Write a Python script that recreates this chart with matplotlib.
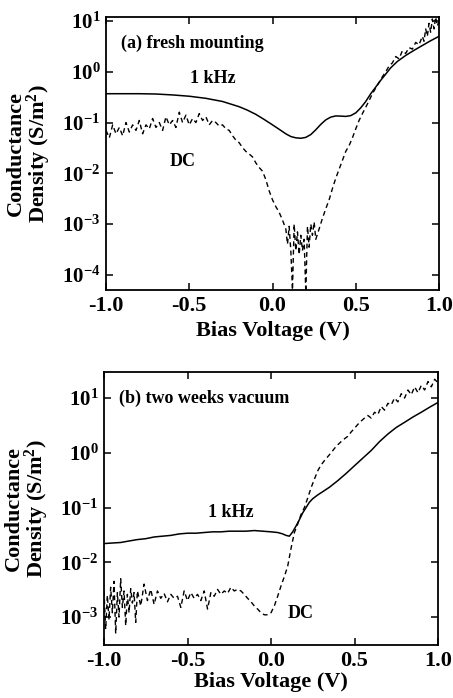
import numpy as np
import matplotlib
matplotlib.use("Agg")
import matplotlib.pyplot as plt

plt.rcParams["font.family"] = ["Liberation Serif", "DejaVu Serif"]
plt.rcParams["font.weight"] = "bold"
plt.rcParams["mathtext.fontset"] = "custom"
plt.rcParams["mathtext.rm"] = "Liberation Serif:bold"
plt.rcParams["mathtext.bf"] = "Liberation Serif:bold"
plt.rcParams["mathtext.it"] = "Liberation Serif:bold:italic"
plt.rcParams["mathtext.default"] = "bf"

# ---------------- (a) fresh mounting ----------------
v_khz_a = [-1.0, -0.9, -0.8, -0.7, -0.6, -0.5, -0.4, -0.3, -0.2, -0.15, -0.1, -0.05,
           0.0, 0.05, 0.08, 0.11, 0.14, 0.17, 0.20, 0.23, 0.26, 0.29, 0.32, 0.35,
           0.38, 0.41, 0.44, 0.47, 0.50, 0.53, 0.56, 0.59, 0.62, 0.65, 0.68, 0.71,
           0.75, 0.80, 0.85, 0.90, 0.95, 1.00]
g_khz_a = [0.37, 0.37, 0.37, 0.365, 0.35, 0.33, 0.30, 0.26, 0.205, 0.175, 0.145, 0.115,
           0.09, 0.07, 0.06, 0.053, 0.05, 0.049, 0.051, 0.058, 0.072, 0.092, 0.113, 0.128,
           0.135, 0.134, 0.132, 0.137, 0.155, 0.195, 0.26, 0.37, 0.50, 0.68, 0.90, 1.2,
           1.6, 2.1, 2.65, 3.3, 4.1, 5.0]

v_dc_a = [-1.00, -0.98, -0.96, -0.94, -0.92, -0.90, -0.88, -0.86, -0.84, -0.82,
          -0.80, -0.78, -0.76, -0.74, -0.72, -0.70, -0.68, -0.66, -0.64, -0.62,
          -0.60, -0.58, -0.56, -0.54, -0.52, -0.50, -0.48, -0.46, -0.44, -0.42,
          -0.40, -0.38, -0.36, -0.34, -0.32, -0.30, -0.28, -0.26, -0.24, -0.22,
          -0.20, -0.18, -0.16, -0.14, -0.12, -0.10, -0.08, -0.06, -0.04, -0.02,
          0.00, 0.02, 0.04, 0.06, 0.08, 0.09, 0.10, 0.11, 0.12, 0.13,
          0.14, 0.15, 0.16, 0.17, 0.18, 0.19, 0.20, 0.21, 0.22, 0.23,
          0.24, 0.25, 0.26, 0.28, 0.30, 0.32, 0.34, 0.36, 0.38, 0.40,
          0.42, 0.44, 0.46, 0.48, 0.50, 0.52, 0.54, 0.56, 0.58, 0.60,
          0.62, 0.64, 0.66, 0.68, 0.70, 0.72, 0.74, 0.76, 0.78, 0.80,
          0.82, 0.84, 0.86, 0.88, 0.90, 0.91, 0.92, 0.93, 0.94, 0.95,
          0.96, 0.97, 0.98, 0.99, 1.00]
g_dc_a = [0.07, 0.05, 0.09, 0.06, 0.08, 0.055, 0.10, 0.065, 0.09, 0.07,
          0.11, 0.06, 0.09, 0.075, 0.12, 0.08, 0.10, 0.07, 0.13, 0.09,
          0.11, 0.08, 0.16, 0.10, 0.14, 0.09, 0.12, 0.10, 0.15, 0.11,
          0.13, 0.09, 0.11, 0.10, 0.085, 0.09, 0.075, 0.07, 0.055, 0.045,
          0.04, 0.032, 0.027, 0.024, 0.021, 0.016, 0.013, 0.011, 0.0075, 0.0045,
          0.003, 0.0022, 0.0017, 0.0012, 8e-4, 4e-4, 9e-4, 3e-4, 5e-5, 1e-3,
          3e-4, 7e-4, 2.5e-4, 6e-4, 3e-4, 5e-4, 4.5e-5, 9e-4, 3.5e-4, 1e-3,
          6e-4, 1.1e-3, 5e-4, 8e-4, 1.3e-3, 2e-3, 3e-3, 5e-3, 8e-3, 0.012,
          0.018, 0.027, 0.035, 0.05, 0.075, 0.11, 0.15, 0.20, 0.27, 0.37,
          0.48, 0.62, 0.80, 1.0, 1.3, 1.5, 2.0, 1.8, 2.6, 2.3,
          3.0, 2.8, 3.8, 3.4, 5.0, 4.0, 7.0, 5.0, 9.0, 6.0,
          11.0, 7.0, 12.0, 8.0, 10.0]

# ---------------- (b) two weeks vacuum ----------------
v_khz_b = [-1.0, -0.95, -0.9, -0.85, -0.8, -0.75, -0.7, -0.65, -0.6, -0.55, -0.5,
           -0.45, -0.4, -0.35, -0.3, -0.25, -0.2, -0.15, -0.1, -0.05, 0.0, 0.04,
           0.07, 0.09, 0.11, 0.13, 0.15, 0.17, 0.19, 0.21, 0.23, 0.25, 0.28, 0.31,
           0.35, 0.40, 0.45, 0.50, 0.55, 0.60, 0.65, 0.70, 0.75, 0.80, 0.85, 0.90,
           0.95, 1.00]
g_khz_b = [0.022, 0.0225, 0.023, 0.0245, 0.026, 0.027, 0.029, 0.030, 0.031, 0.033, 0.034,
           0.034, 0.035, 0.036, 0.036, 0.037, 0.037, 0.037, 0.038, 0.037, 0.036, 0.035,
           0.033, 0.031, 0.030, 0.036, 0.046, 0.06, 0.08, 0.10, 0.125, 0.145, 0.17, 0.195,
           0.235, 0.31, 0.42, 0.58, 0.80, 1.1, 1.6, 2.2, 2.9, 3.6, 4.5, 5.5,
           6.8, 8.3]

v_dc_b = [-1.00, -0.99, -0.98, -0.97, -0.96, -0.95, -0.94, -0.93, -0.92, -0.91,
          -0.90, -0.89, -0.88, -0.87, -0.86, -0.85, -0.84, -0.83, -0.82, -0.81,
          -0.80, -0.78, -0.76, -0.74, -0.72, -0.70, -0.68, -0.66, -0.64, -0.62,
          -0.60, -0.58, -0.56, -0.54, -0.52, -0.50, -0.48, -0.46, -0.44, -0.42,
          -0.40, -0.38, -0.36, -0.34, -0.32, -0.30, -0.28, -0.26, -0.24, -0.22,
          -0.20, -0.18, -0.16, -0.14, -0.12, -0.10, -0.08, -0.06, -0.04, -0.02,
          0.00, 0.02, 0.04, 0.06, 0.08, 0.10, 0.12, 0.14, 0.16, 0.18,
          0.20, 0.22, 0.24, 0.26, 0.28, 0.30, 0.32, 0.34, 0.36, 0.38,
          0.40, 0.42, 0.44, 0.46, 0.48, 0.50, 0.52, 0.54, 0.56, 0.58,
          0.60, 0.62, 0.64, 0.66, 0.68, 0.70, 0.72, 0.74, 0.76, 0.78,
          0.80, 0.82, 0.84, 0.86, 0.88, 0.90, 0.92, 0.94, 0.96, 0.98, 1.00]
g_dc_b = [0.0030, 0.0006, 0.0025, 0.0009, 0.0035, 0.0012, 0.0045, 0.0005, 0.0028, 0.0010,
          0.0050, 0.0015, 0.0030, 0.0007, 0.0026, 0.0012, 0.0033, 0.0018, 0.0028, 0.0008,
          0.0030, 0.0016, 0.0040, 0.0020, 0.0032, 0.0017, 0.0030, 0.0022, 0.0027, 0.0019,
          0.0026, 0.0022, 0.0024, 0.0015, 0.0030, 0.0020, 0.0028, 0.0022, 0.0026, 0.0020,
          0.0030, 0.0014, 0.0028, 0.0024, 0.0032, 0.0026, 0.0030, 0.0027, 0.0035, 0.0030,
          0.0032, 0.0030, 0.0026, 0.0022, 0.0019, 0.0016, 0.0014, 0.0012, 0.0011, 0.0011,
          0.0012, 0.0016, 0.0024, 0.0037, 0.0055, 0.0085, 0.018, 0.035, 0.05, 0.075,
          0.10, 0.15, 0.23, 0.33, 0.47, 0.60, 0.72, 0.85, 1.0, 1.2,
          1.4, 1.6, 1.8, 2.0, 2.4, 2.8, 3.3, 3.8, 4.3, 4.8,
          4.3, 5.5, 5.0, 7.0, 6.0, 8.0, 7.5, 10.0, 8.5, 12.0,
          10.0, 14.0, 11.5, 16.0, 12.5, 17.0, 14.0, 20.0, 16.0, 22.0, 19.0]

x_ticks = [-1.0, -0.5, 0.0, 0.5, 1.0]
x_ticklabels = ["-1.0", "-0.5", "0.0", "0.5", "1.0"]

panels = [
    dict(rect=[106 / 453, 1 - 290 / 698, 333 / 453, 273 / 698],
         ylim=(10 ** -4.3, 10 ** 1.08), yticks=[1e-4, 1e-3, 1e-2, 1e-1, 1e0, 1e1],
         khz=(v_khz_a, g_khz_a), dc=(v_dc_a, g_dc_a),
         title="(a) fresh mounting", title_xy=(0.045, 0.905),
         khz_xy=(0.32, 0.775), dc_xy=(0.23, 0.47), xlab_y=-0.115),
    dict(rect=[104 / 453, 1 - 645 / 698, 334 / 453, 273 / 698],
         ylim=(10 ** -3.51, 10 ** 1.475), yticks=[1e-3, 1e-2, 1e-1, 1e0, 1e1],
         khz=(v_khz_b, g_khz_b), dc=(v_dc_b, g_dc_b),
         title="(b) two weeks vacuum", title_xy=(0.045, 0.905),
         khz_xy=(0.38, 0.485), dc_xy=(0.59, 0.117), xlab_y=-0.1),
]

fig = plt.figure(figsize=(4.53, 6.98), dpi=100)

for p in panels:
    ax = fig.add_axes(p["rect"])
    ax.set_yscale("log")
    ax.plot(*p["khz"], color="black", lw=1.1, solid_joinstyle="round")
    ax.plot(*p["dc"], color="black", lw=1.0, linestyle=(0, (3.5, 2.5)))
    ax.set_xlim(-1.0, 1.0)
    ax.set_ylim(*p["ylim"])
    ax.set_xticks(x_ticks)
    ax.set_xticklabels(x_ticklabels)
    ax.set_yticks(p["yticks"])
    ax.yaxis.set_minor_locator(matplotlib.ticker.NullLocator())
    ax.tick_params(which="major", direction="in", length=5, width=1.1,
                   top=True, right=True, labelsize=16, pad=4)
    ax.tick_params(axis="y", labelsize=15, pad=4)
    for s in ax.spines.values():
        s.set_linewidth(1.3)
    ax.set_xlabel("Bias Voltage (V)", fontsize=16, fontweight="bold", va="top")
    ax.xaxis.set_label_coords(0.5, p["xlab_y"])
    ax.text(-0.23, 0.5, "Conductance\nDensity (S/m$^2$)", transform=ax.transAxes,
            rotation=90, ha="center", va="center", fontsize=16, fontweight="bold",
            linespacing=0.95, multialignment="center")
    ax.text(*p["title_xy"], p["title"], transform=ax.transAxes, fontsize=13,
            fontweight="bold", ha="left", va="center")
    ax.text(*p["khz_xy"], "1 kHz", transform=ax.transAxes, fontsize=13,
            fontweight="bold", ha="center", va="center")
    ax.text(*p["dc_xy"], "DC", transform=ax.transAxes, fontsize=13,
            fontweight="bold", ha="center", va="center")

fig.savefig("out.png", dpi=100)
